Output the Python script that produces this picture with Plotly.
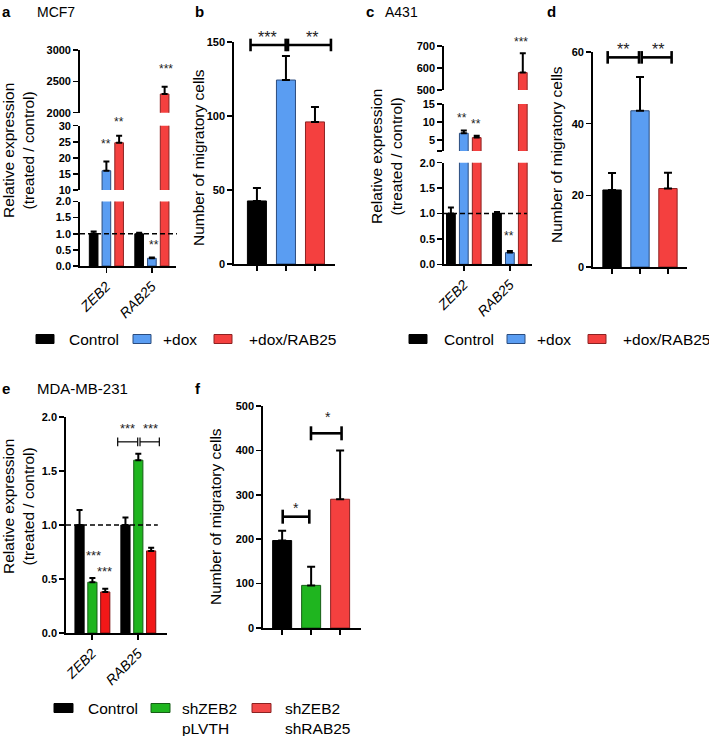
import plotly.graph_objects as go

W, H = 709, 736

# ---------------- data ----------------
genes = ["ZEB2", "RAB25"]
conds = ["Control", "+dox", "+dox/RAB25"]
sh_conds = ["Control", "shZEB2 pLVTH", "shZEB2 shRAB25"]

# a: MCF7 relative expression
mcf7_control = [1.0, 1.0]
mcf7_control_err = [0.07, 0.03]
mcf7_dox = [16.0, 0.24]
mcf7_dox_err = [2.9, 0.02]
mcf7_dox_rab25 = [24.7, 2298]
mcf7_dox_rab25_err = [2.2, 115]

# b: MCF7 migration
mcf7_migr = [42.6, 124.3, 96.0]
mcf7_migr_err = [8.8, 16.2, 10.0]

# c: A431 relative expression
a431_control = [1.0, 1.0]
a431_control_err = [0.12, 0.03]
a431_dox = [6.9, 0.23]
a431_dox_err = [0.8, 0.03]
a431_dox_rab25 = [5.7, 579]
a431_dox_rab25_err = [0.5, 88]

# d: A431 migration
a431_migr = [21.5, 43.6, 21.9]
a431_migr_err = [4.7, 9.4, 4.4]

# e: MDA-MB-231 relative expression
mda_control = [1.0, 1.0]
mda_control_err = [0.14, 0.07]
mda_pLVTH = [0.47, 1.6]
mda_pLVTH_err = [0.04, 0.06]
mda_shRAB25 = [0.38, 0.76]
mda_shRAB25_err = [0.03, 0.03]

# f: MDA-MB-231 migration
mda_migr = [197, 96, 290]
mda_migr_err = [22, 42, 110]

# significance marks (category position, value, text)
a_stars = [("y2", 0.0, 25.5, "**"), ("y2", 0.28, 32.3, "**"), ("y3", 1.31, 2745, "***"), ("y", 1.05, 0.74, "**")]
c_stars = [("y6", -0.04, 11.96, "**"), ("y6", 0.265, 10.3, "**"), ("y7", 1.24, 732, "***"), ("y5", 0.98, 0.62, "**")]
b_brackets = [(-0.22, 0.99, 148), (1.07, 2.55, 148)]
b_stars = [(0.38, 156, "***"), (1.9, 156, "**")]
d_brackets = [(-0.155, 0.964, 58.5), (1.06, 2.13, 58.5)]
d_stars = [(0.39, 62, "**"), (1.64, 62, "**")]
e_brackets = [(0.556, 0.992, 1.77), (1.042, 1.463, 1.77)]
e_stars = [(0.02, 0.75, "***"), (0.26, 0.60, "***"), (0.78, 1.93, "***"), (1.26, 1.93, "***")]
f_brackets = [(0.02, 0.937, 250.7), (0.995, 2.05, 438.5)]
f_stars = [(0.48, 279, "*"), (1.59, 484, "*")]

# ---------------- styles ----------------
BLACK = "#000000"
BLUE, BLUE_L = "#5A9DF2", "#2B4C7E"
RED, RED_L = "#F4403F", "#8C2222"
GREEN, GREEN_L = "#1FB51F", "#165E16"
RED_E = "#F21818"
FONT = "Liberation Sans, Arial, sans-serif"

# geometry (pixel positions of axes)
geo = {
    "x": dict(xpx=(80, 176), xr=(-0.58, 1.53)),
    "x2": dict(xpx=(234, 335), xr=(-0.79, 2.69)),
    "x3": dict(xpx=(444, 532), xr=(-0.43, 1.48)),
    "x4": dict(xpx=(593, 687), xr=(-0.68, 2.68)),
    "x5": dict(xpx=(66, 167), xr=(-0.57, 1.63)),
    "x6": dict(xpx=(263, 361), xr=(-0.66, 2.72)),
}
ygeo = {
    "y": dict(ypx=(266, 201.5), yr=(0, 2), xa="x"),
    "y2": dict(ypx=(190, 125.7), yr=(10, 30), xa="x"),
    "y3": dict(ypx=(112.7, 50), yr=(2000, 3000), xa="x"),
    "y4": dict(ypx=(264, 42), yr=(0, 150), xa="x2"),
    "y5": dict(ypx=(264.3, 162.7), yr=(0, 2), xa="x3"),
    "y6": dict(ypx=(151, 104), yr=(2, 15), xa="x3"),
    "y7": dict(ypx=(90, 46), yr=(500, 700), xa="x3"),
    "y8": dict(ypx=(267, 52), yr=(0, 60), xa="x4"),
    "y9": dict(ypx=(633, 417), yr=(0, 2), xa="x5"),
    "y10": dict(ypx=(628, 406), yr=(0, 500), xa="x6"),
}
yticks = {
    "y": ([0, 0.5, 1, 1.5, 2], ["0.0", "0.5", "1.0", "1.5", "2.0"]),
    "y2": ([10, 15, 20, 25, 30], ["10", "15", "20", "25", "30"]),
    "y3": ([2000, 2500, 3000], ["2000", "2500", "3000"]),
    "y4": ([0, 50, 100, 150], ["0", "50", "100", "150"]),
    "y5": ([0, 0.5, 1, 1.5, 2], ["0.0", "0.5", "1.0", "1.5", "2.0"]),
    "y6": ([2, 5, 10, 15], ["", "5", "10", "15"]),
    "y7": ([500, 600, 700], ["500", "600", "700"]),
    "y8": ([0, 20, 40, 60], ["0", "20", "40", "60"]),
    "y9": ([0, 0.5, 1, 1.5, 2], ["0.0", "0.5", "1.0", "1.5", "2.0"]),
    "y10": ([0, 100, 200, 300, 400, 500], ["0", "100", "200", "300", "400", "500"]),
}


def to_paper(ya, cx, vy):
    yg = ygeo[ya]
    xg = geo[yg["xa"]]
    px = xg["xpx"][0] + (cx - xg["xr"][0]) / (xg["xr"][1] - xg["xr"][0]) * (xg["xpx"][1] - xg["xpx"][0])
    py = yg["ypx"][0] + (vy - yg["yr"][0]) / (yg["yr"][1] - yg["yr"][0]) * (yg["ypx"][1] - yg["ypx"][0])
    return px / W, 1 - py / H


fig = go.Figure()


def add_bar(x, y, err, color, lcolor, xa, ya, offset, width, capw):
    fig.add_trace(go.Bar(
        x=x, y=y, xaxis=xa, yaxis=ya, offset=offset, width=width,
        marker=dict(color=color, line=dict(color=lcolor, width=1)),
        error_y=dict(type="data", symmetric=False, array=err, arrayminus=[0] * len(err),
                     color="black", thickness=2, width=capw),
        showlegend=False, hoverinfo="skip"))


gw, gs = 0.19, 0.28
offs = [-gs - gw / 2, -gw / 2, gs - gw / 2]

for ya in ["y", "y2", "y3"]:
    add_bar(genes, mcf7_control, mcf7_control_err, BLACK, BLACK, "x", ya, offs[0], gw, 3)
    add_bar(genes, mcf7_dox, mcf7_dox_err, BLUE, BLUE_L, "x", ya, offs[1], gw, 3)
    add_bar(genes, mcf7_dox_rab25, mcf7_dox_rab25_err, RED, RED_L, "x", ya, offs[2], gw, 3)
for ya in ["y5", "y6", "y7"]:
    add_bar(genes, a431_control, a431_control_err, BLACK, BLACK, "x3", ya, offs[0], gw, 3)
    add_bar(genes, a431_dox, a431_dox_err, BLUE, BLUE_L, "x3", ya, offs[1], gw, 3)
    add_bar(genes, a431_dox_rab25, a431_dox_rab25_err, RED, RED_L, "x3", ya, offs[2], gw, 3)

add_bar(genes, mda_control, mda_control_err, BLACK, BLACK, "x5", "y9", offs[0], 0.2, 3)
add_bar(genes, mda_pLVTH, mda_pLVTH_err, GREEN, GREEN_L, "x5", "y9", offs[1], 0.2, 3)
add_bar(genes, mda_shRAB25, mda_shRAB25_err, RED_E, "#7a1010", "x5", "y9", offs[2], 0.2, 3)

sw = 0.655
for vals, errs, xa, ya, cols, lcols in [
    (mcf7_migr, mcf7_migr_err, "x2", "y4", [BLACK, BLUE, RED], [BLACK, BLUE_L, RED_L]),
    (a431_migr, a431_migr_err, "x4", "y8", [BLACK, BLUE, RED], [BLACK, BLUE_L, RED_L]),
    (mda_migr, mda_migr_err, "x6", "y10", [BLACK, GREEN, RED], [BLACK, GREEN_L, RED_L]),
]:
    cats = sh_conds if xa == "x6" else conds
    for i in range(3):
        add_bar([cats[i]], [vals[i]], [errs[i]], cols[i], lcols[i], xa, ya, -sw / 2, sw, 4)

AX = dict(showline=True, linecolor="black", linewidth=1.8, ticks="outside", ticklen=5,
          tickwidth=1.5, tickcolor="black", showgrid=False, zeroline=False, fixedrange=True,
          automargin=False)

layout = dict(width=W, height=H, margin=dict(l=0, r=0, t=0, b=0, pad=0, autoexpand=False),
              paper_bgcolor="white", plot_bgcolor="rgba(0,0,0,0)", barmode="overlay",
              showlegend=False, font=dict(family=FONT, color="black"))

bottom_y = {"x": "y", "x2": "y4", "x3": "y5", "x4": "y8", "x5": "y9", "x6": "y10"}
for xa, g in geo.items():
    key = "xaxis" + xa[1:]
    cats = genes if xa in ("x", "x3", "x5") else (sh_conds if xa == "x6" else conds)
    d = dict(AX, domain=[g["xpx"][0] / W, g["xpx"][1] / W], range=list(g["xr"]),
             type="category", categoryorder="array", categoryarray=cats,
             anchor=bottom_y[xa])
    if xa in ("x", "x3", "x5"):
        d.update(tickangle=-45, tickfont=dict(family=FONT, size=14, style="italic", color="black"))
    else:
        d.update(showticklabels=False)
    layout[key] = d

for ya, g in ygeo.items():
    key = "yaxis" + ya[1:]
    tv, tt = yticks[ya]
    layout[key] = dict(AX, domain=[1 - g["ypx"][0] / H, 1 - g["ypx"][1] / H], range=list(g["yr"]),
                       anchor=g["xa"], tickmode="array", tickvals=tv, ticktext=tt,
                       tickfont=dict(family=FONT, size=11, weight="bold", color="black"))

fig.update_layout(**layout)

shapes = []
ann = []

# dashed reference lines at 1.0
for ya, x0, x1 in [("y", -0.58, 1.55), ("y5", -0.43, 1.37), ("y9", -0.57, 1.43)]:
    p0 = to_paper(ya, x0, 1.0)
    p1 = to_paper(ya, x1, 1.0)
    shapes.append(dict(type="line", xref="paper", yref="paper", x0=p0[0], x1=p1[0], y0=p0[1], y1=p1[1],
                       line=dict(color="black", width=1.5, dash="5px,3px"), layer="above"))


def bracket(ya, x0, x1, v, lw, cap):
    a = to_paper(ya, x0, v)
    b = to_paper(ya, x1, v)
    c = cap / H
    shapes.append(dict(type="line", xref="paper", yref="paper", x0=a[0], x1=b[0], y0=a[1], y1=a[1],
                       line=dict(color="black", width=lw)))
    for xx in (a[0], b[0]):
        shapes.append(dict(type="line", xref="paper", yref="paper", x0=xx, x1=xx, y0=a[1] - c, y1=a[1] + c,
                           line=dict(color="black", width=lw)))


def star(ya, cx, v, txt, fs):
    p = to_paper(ya, cx, v)
    ann.append(dict(text=txt, x=p[0], y=p[1], xref="paper", yref="paper", xanchor="center",
                    yanchor="middle", yshift=-0.28 * fs, showarrow=False,
                    font=dict(family=FONT, size=fs, color="#222")))


for b in b_brackets:
    bracket("y4", *b, 2.6, 6.3)
for b in d_brackets:
    bracket("y8", *b, 2.6, 6.3)
for b in e_brackets:
    bracket("y9", *b, 1.2, 4.3)
for b in f_brackets:
    bracket("y10", *b, 2.6, 7)

for ya, cx, v, t in a_stars:
    star(ya, cx, v, t, 12)
for ya, cx, v, t in c_stars:
    star(ya, cx, v, t, 12)
for cx, v, t in b_stars:
    star("y4", cx, v, t, 16)
for cx, v, t in d_stars:
    star("y8", cx, v, t, 16)
for cx, v, t in e_stars:
    star("y9", cx, v, t, 13)
for cx, v, t in f_stars:
    star("y10", cx, v, t, 14)


def text(t, x, y, size, bold=False, angle=0, xanchor="left", yanchor="middle", align="left"):
    ann.append(dict(text=t, x=x / W, y=1 - y / H, xref="paper", yref="paper", xanchor=xanchor,
                    yanchor=yanchor, showarrow=False, textangle=angle, align=align,
                    font=dict(family=FONT, size=size, color="black", weight="bold" if bold else "normal")))


# panel labels
text("a", 0, 12, 15, True)
text("MCF7", 35, 12, 14)
text("b", 193, 12, 15, True)
text("c", 364, 12, 15, True)
text("A431", 383, 12, 14)
text("d", 545, 12, 15, True)
text("e", 0, 388, 15, True)
text("MDA-MB-231", 35, 388, 15)
text("f", 193, 388, 15, True)

# axis titles
for t, x, y in [("Relative expression<br>(treated / control)", 18, 151),
                ("Relative expression<br>(treated / control)", 387, 157),
                ("Relative expression<br>(treated / control)", 18, 507),
                ("Number of migratory cells", 198, 158),
                ("Number of migratory cells", 556, 155),
                ("Number of migratory cells", 215, 516)]:
    text(t, x, y, 15.5, angle=-90, xanchor="center", align="center")


def swatch(x0, x1, yc, color, lcolor, h=9):
    shapes.append(dict(type="rect", xref="paper", yref="paper", x0=x0 / W, x1=x1 / W,
                       y0=1 - (yc + h / 2) / H, y1=1 - (yc - h / 2) / H,
                       fillcolor=color, line=dict(color=lcolor, width=1)))


# legends row 1
leg_cols = [(BLACK, BLACK), (BLUE, BLUE_L), (RED, RED_L)]
for sx, tx in [([36, 133, 214], [67, 161, 247]), ([409, 507, 588], [442, 535, 621])]:
    for i in range(3):
        swatch(sx[i], sx[i] + 18, 339, *leg_cols[i])
        text(conds[i], tx[i], 339, 15.5)

# legend bottom
leg_cols2 = [(BLACK, BLACK), (GREEN, GREEN_L), ("#F24848", RED_L)]
sx2 = [54, 151, 252]
tx2 = [86, 180, 283]
for i in range(3):
    swatch(sx2[i], sx2[i] + 19, 708, *leg_cols2[i])
    lab = sh_conds[i].replace(" ", "<br>")
    if i == 0:
        text(lab, tx2[i], 708, 15.5)
    else:
        text(lab, tx2[i], 698, 15.5, yanchor="top")

fig.update_layout(shapes=shapes, annotations=ann)
fig.write_html("out.html", config={"displayModeBar": False, "staticPlot": True},
               post_script="document.body.style.margin='0';document.body.style.padding='0';")
